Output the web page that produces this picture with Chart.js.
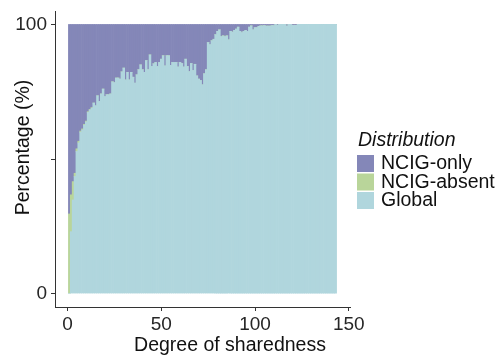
<!DOCTYPE html>
<html>
<head>
<meta charset="utf-8">
<title>Degree of sharedness</title>
<script src="https://cdn.jsdelivr.net/npm/chart.js@4.4.0/dist/chart.umd.min.js"></script>
<style>
  html, body { margin: 0; padding: 0; background: #fff; }
  #wrap { width: 503px; height: 356px; }
</style>
</head>
<body>
<div id="wrap"><canvas id="chart" width="503" height="356"></canvas></div>
<script>
// share of each sequence class (%) per degree of sharedness, stacked to 100
const degrees = [
  1, 2, 3, 4, 5, 6, 7, 8, 9, 10, 11, 12, 13, 14, 15, 16, 17, 18, 19, 20,
  21, 22, 23, 24, 25, 26, 27, 28, 29, 30, 31, 32, 33, 34, 35, 36, 37, 38, 39, 40,
  41, 42, 43, 44, 45, 46, 47, 48, 49, 50, 51, 52, 53, 54, 55, 56, 57, 58, 59, 60,
  61, 62, 63, 64, 65, 66, 67, 68, 69, 70, 71, 72, 73, 74, 75, 76, 77, 78, 79, 80,
  81, 82, 83, 84, 85, 86, 87, 88, 89, 90, 91, 92, 93, 94, 95, 96, 97, 98, 99, 100,
  101, 102, 103, 104, 105, 106, 107, 108, 109, 110, 111, 112, 113, 114, 115, 116, 117, 118, 119, 120,
  121, 122, 123, 124, 125, 126, 127, 128, 129, 130, 131, 132, 133, 134, 135, 136, 137, 138, 139, 140,
  141, 142, 143
];

const globalPct = [
  0, 23, 34.8, 43.5, 52.8, 56, 60, 60.8, 62.6, 63.8, 67.3, 68.2, 68.9, 70.8, 69.8, 73.5, 71.4, 74.2, 76, 73.2,
  73.9, 73.9, 74.2, 78.7, 78.4, 80.1, 80.1, 79.7, 82.4, 83.8, 79.4, 82.2, 79.4, 82.2, 80.4, 78.2, 81.3, 83.2, 85, 83.2,
  82.2, 86.6, 83.2, 88.7, 84.4, 85.4, 85.9, 84.4, 85.9, 87.1, 88.4, 84.6, 88.4, 88.4, 84.8, 85.9, 85.9, 85.9, 84.2, 85.9,
  85.5, 84.2, 87.1, 84.4, 82.5, 85.5, 82.9, 85.2, 80.9, 79.7, 79.2, 77.6, 81.7, 83.2, 93.3, 92.5, 94, 94.5, 96.2, 97.4,
  98, 95.5, 95.8, 95.5, 95.8, 94.3, 97.4, 97.2, 97.8, 98.3, 99, 97.4, 97, 97.4, 97.8, 97.4, 99, 99.5, 98, 98.8,
  98.8, 99.3, 99.5, 99.5, 99.6, 99.4, 99.4, 99.4, 99.6, 99.6, 100, 99.7, 100, 100, 100, 100, 99.4, 100, 100, 99.7,
  99.7, 99.7, 100, 100, 100, 100, 100, 100, 100, 100, 100, 100, 100, 100, 100, 100, 100, 100, 100, 100,
  100, 100, 100
];

const absentPct = [
  29.6, 13.7, 6.8, 1.2, 1, 0.6, 0.4, 0.4, 0.3, 0.3, 0.3, 0.2, 0.2, 0, 0, 0, 0, 0, 0, 0,
  0, 0, 0, 0, 0, 0, 0, 0, 0, 0, 0, 0, 0, 0, 0, 0, 0, 0, 0, 0,
  0, 0, 0, 0, 0, 0, 0, 0, 0, 0, 0, 0, 0, 0, 0, 0, 0, 0, 0, 0,
  0, 0, 0, 0, 0, 0, 0, 0, 0, 0, 0, 0, 0, 0, 0, 0, 0, 0, 0, 0,
  0, 0, 0, 0, 0, 0, 0, 0, 0, 0, 0, 0, 0, 0, 0, 0, 0, 0, 0, 0,
  0, 0, 0, 0, 0, 0, 0, 0, 0, 0, 0, 0, 0, 0, 0, 0, 0, 0, 0, 0,
  0, 0, 0, 0, 0, 0, 0, 0, 0, 0, 0, 0, 0, 0, 0, 0, 0, 0, 0, 0,
  0, 0, 0
];

const onlyPct = [
  70.4, 63.3, 58.4, 55.3, 46.2, 43.4, 39.6, 38.8, 37.1, 35.9, 32.4, 31.6, 30.9, 29.2, 30.2, 26.5, 28.6, 25.8, 24, 26.8,
  26.1, 26.1, 25.8, 21.3, 21.6, 19.9, 19.9, 20.3, 17.6, 16.2, 20.6, 17.8, 20.6, 17.8, 19.6, 21.8, 18.7, 16.8, 15, 16.8,
  17.8, 13.4, 16.8, 11.3, 15.6, 14.6, 14.1, 15.6, 14.1, 12.9, 11.6, 15.4, 11.6, 11.6, 15.2, 14.1, 14.1, 14.1, 15.8, 14.1,
  14.5, 15.8, 12.9, 15.6, 17.5, 14.5, 17.1, 14.8, 19.1, 20.3, 20.8, 22.4, 18.3, 16.8, 6.7, 7.5, 6, 5.5, 3.8, 2.6,
  2, 4.5, 4.2, 4.5, 4.2, 5.7, 2.6, 2.8, 2.2, 1.7, 1, 2.6, 3, 2.6, 2.2, 2.6, 1, 0.5, 2, 1.2,
  1.2, 0.7, 0.5, 0.5, 0.4, 0.6, 0.6, 0.6, 0.4, 0.4, 0, 0.3, 0, 0, 0, 0, 0.6, 0, 0, 0.3,
  0.3, 0.3, 0, 0, 0, 0, 0, 0, 0, 0, 0, 0, 0, 0, 0, 0, 0, 0, 0, 0,
  0, 0, 0
];

const xTickValues = [0, 50, 100, 150];
const xTickLabels = ['0', '50', '100', '150'];
const yTickValues = [0, 50, 100];
const yTickLabels = ['0', '', '100'];

const seriesNames = ['Global', 'NCIG-absent', 'NCIG-only'];
const seriesColors = ['#b0d6dd', '#b9d59a', '#8487b8'];

(function () {
  'use strict';

  const FONT = "'Liberation Sans', Arial, Helvetica, sans-serif";
  const AXIS = '#333333';
  const TICK_TEXT = '#262626';

  Chart.defaults.font.family = FONT;

  // axis titles and the legend block are painted after the chart
  const sideText = {
    id: 'sideText',
    afterDraw(chart) {
      const ctx = chart.ctx;
      ctx.save();
      ctx.fillStyle = '#111';
      ctx.font = '19.5px ' + FONT;
      ctx.textAlign = 'center';
      ctx.textBaseline = 'alphabetic';
      ctx.fillText('Degree of sharedness', 230, 351);

      ctx.save();
      ctx.translate(29, 147.5);
      ctx.rotate(-Math.PI / 2);
      ctx.fillText('Percentage (%)', 0, 0);
      ctx.restore();

      ctx.textAlign = 'left';
      ctx.font = 'italic 19.5px ' + FONT;
      ctx.fillText('Distribution', 358, 146);

      ctx.font = '19.5px ' + FONT;
      ctx.textBaseline = 'middle';
      const order = chart.data.datasets.slice().reverse();
      order.forEach((ds, i) => {
        const top = 155 + i * 18.5;
        ctx.fillStyle = ds.backgroundColor;
        ctx.fillRect(357, top, 17, 17);
        ctx.fillStyle = '#111';
        ctx.fillText(ds.label, 381, top + 9);
      });
      ctx.restore();
    }
  };

  const datasets = [globalPct, absentPct, onlyPct].map((vals, i) => ({
    label: seriesNames[i],
    data: vals,
    backgroundColor: seriesColors[i],
    borderWidth: 0,
    barPercentage: 1,
    categoryPercentage: 1
  }));

  new Chart(document.getElementById('chart'), {
    type: 'bar',
    data: { labels: degrees, datasets: datasets },
    plugins: [sideText],
    options: {
      responsive: false,
      animation: false,
      events: [],
      layout: { padding: { top: 11, right: 153, bottom: 0, left: 0 } },
      plugins: { legend: { display: false }, tooltip: { enabled: false } },
      scales: {
        x: {
          type: 'linear',
          stacked: true,
          offset: false,
          min: -6.65,
          max: 150.65,
          afterBuildTicks: (s) => { s.ticks = xTickValues.map((v) => ({ value: v })); },
          afterFit: (s) => { s.height = 49; s.paddingLeft = 0; s.paddingRight = 0; },
          ticks: {
            color: TICK_TEXT,
            font: { size: 19 },
            padding: 2,
            maxRotation: 0,
            autoSkip: false,
            callback: (v, i) => xTickLabels[i]
          },
          grid: { offset: false, drawOnChartArea: false, drawTicks: true, tickLength: 4, tickColor: AXIS },
          border: { display: true, color: AXIS, width: 1 }
        },
        y: {
          stacked: true,
          min: -5,
          max: 105,
          afterBuildTicks: (s) => { s.ticks = yTickValues.map((v) => ({ value: v })); },
          afterFit: (s) => { s.width = 55; s.paddingTop = 0; s.paddingBottom = 0; },
          ticks: {
            color: TICK_TEXT,
            font: { size: 19 },
            padding: 4,
            autoSkip: false,
            callback: (v, i) => yTickLabels[i]
          },
          grid: { drawOnChartArea: false, drawTicks: true, tickLength: 4, tickColor: AXIS },
          border: { display: true, color: AXIS, width: 1 }
        }
      }
    }
  });
})();
</script>
</body>
</html>
